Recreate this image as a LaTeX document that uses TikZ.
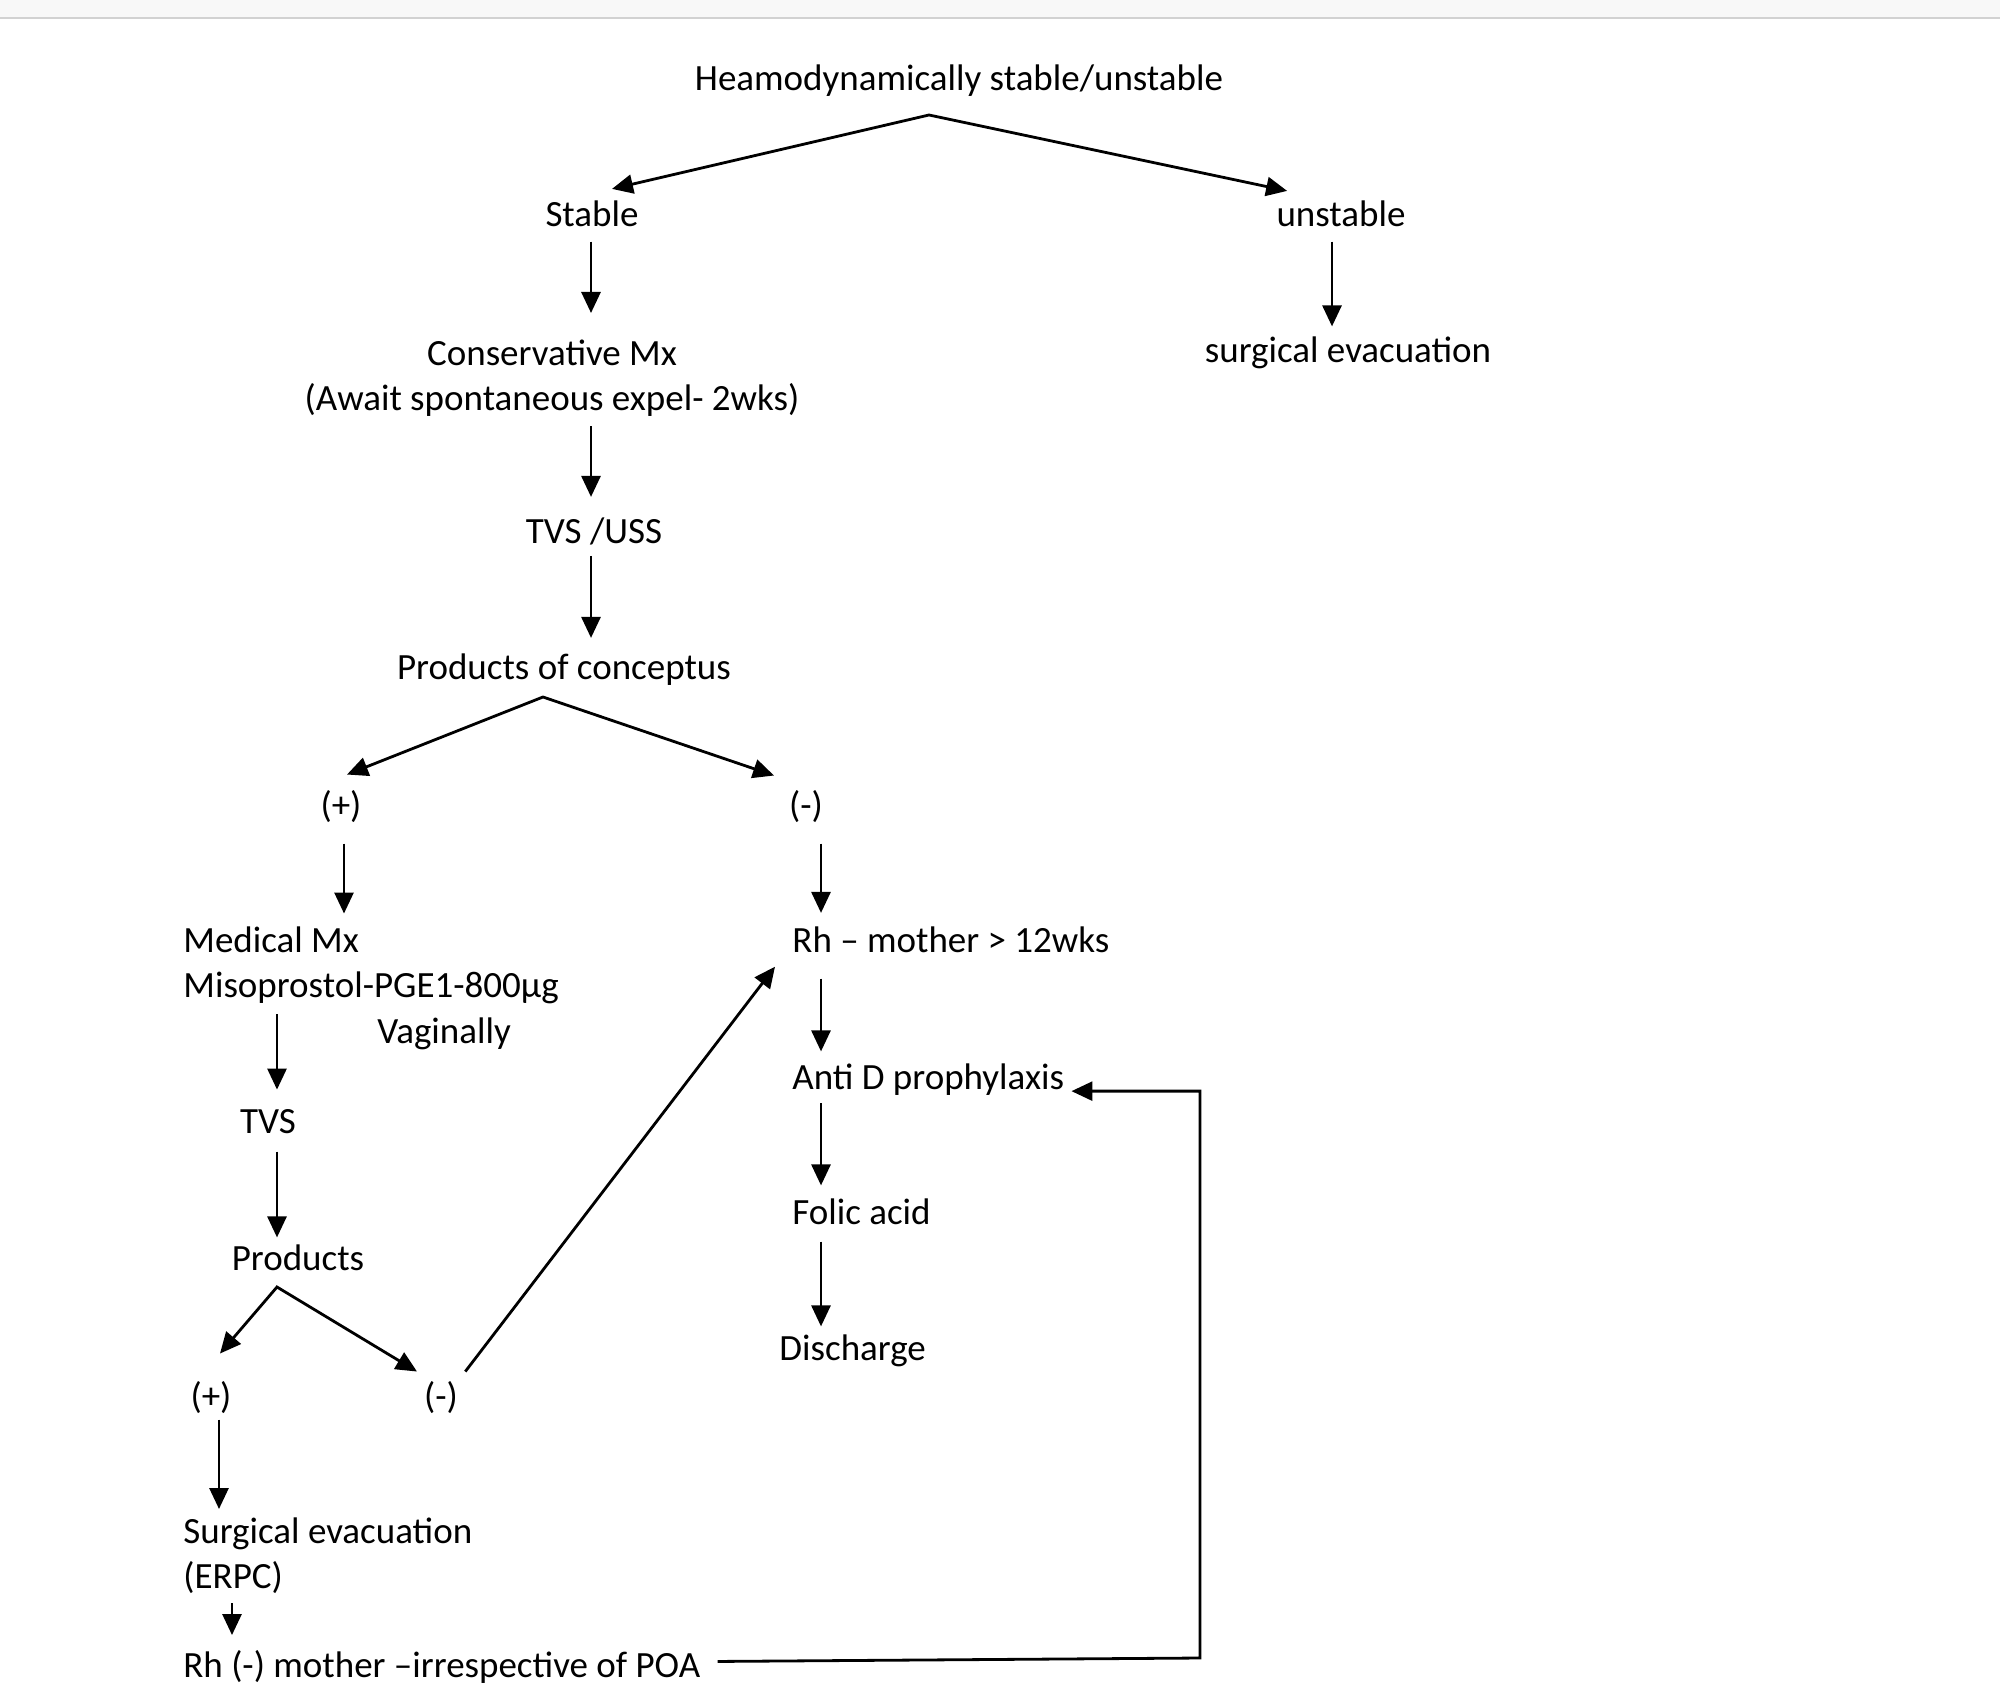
\documentclass[tikz,border=0pt]{standalone}
\usepackage{fontspec}
\setmainfont{Carlito}
\usetikzlibrary{arrows.meta,calc}
\definecolor{bandgray}{HTML}{F8F8F8}
\definecolor{rulegray}{HTML}{D2D2D2}

\begin{document}
\begin{tikzpicture}[x=0.5pt, y=-0.5pt, line width=1.4pt,
        >={Triangle[length=10.5pt,width=9.5pt]},
        txt/.style={inner sep=0pt, font=\fontsize{18.5pt}{22.5pt}\selectfont}]
        \useasboundingbox (0,0) rectangle (2000,1701);
        % Window edge at the top
        \fill[bandgray] (0,0) rectangle (2000,17);
        \draw[rulegray, line width=1.2pt] (0,18) -- (2000,18);
        % Upper part
        \node[txt, anchor=base] (head) at (959,91) {Heamodynamically stable/unstable};
        \node[txt, anchor=base] (stable) at (592,227) {Stable};
        \node[txt, anchor=base] (unst) at (1341,227) {unstable};
        \node[txt, anchor=north, align=center] (cons) at (552,339) {Conservative Mx\\(Await spontaneous expel- 2wks)};
        \node[txt, anchor=base] (surg) at (1348,363) {surgical evacuation};
        \node[txt, anchor=base] (tvs) at (594,543) {TVS /USS};
        \node[txt, anchor=base] (poc) at (564,679) {Products of conceptus};
        \node[txt, anchor=base] (pos) at (341,817) {(+)};
        \node[txt, anchor=base] (neg) at (806,817) {(-)};
        % Left branch
        \node[txt, anchor=north west, align=left] (med) at (182,925.5) {Medical Mx\\Misoprostol-PGE1-800µg};
        \node[txt, anchor=base west] (vag) at (376,1043) {Vaginally};
        \node[txt, anchor=base] (tvsb) at (268,1133) {TVS};
        \node[txt, anchor=base] (prod) at (298,1270) {Products};
        \node[txt, anchor=base] (posb) at (211,1408) {(+)};
        \node[txt, anchor=base] (negb) at (441,1408) {(-)};
        \node[txt, anchor=north west, align=left] (evac) at (182,1516.5) {Surgical evacuation\\(ERPC)};
        \node[txt, anchor=base west] (rhneg) at (182,1677) {Rh (-) mother –irrespective of POA};
        % Right branch
        \node[txt, anchor=base west] (rhm) at (791,952) {Rh – mother > 12wks};
        \node[txt, anchor=base west] (antid) at (791,1089) {Anti D prophylaxis};
        \node[txt, anchor=base west] (folic) at (791,1224) {Folic acid};
        \node[txt, anchor=base west] (disch) at (778,1360) {Discharge};
        % Arrow columns and fork points
        \coordinate (colmid) at (591,0);
        \coordinate (colunst) at (1332,0);
        \coordinate (colpos) at (344,0);
        \coordinate (colright) at (821,0);
        \coordinate (colleft) at (277,0);
        \coordinate (colposb) at (219,0);
        \coordinate (colevac) at (232,0);
        \coordinate (headfork) at (929,115);
        \coordinate (pocfork) at (543,697);
        \coordinate (prodfork) at (277,1287);
        \coordinate (loop) at (1200,1658);
        % Forks
        \draw[<->] ($(stable.north)+(20,-11)$) -- (headfork) -- ($(unst.north west)+(12,-9)$);
        \draw[<->] ($(pos.north)+(6,-14)$) -- (pocfork) -- ($(neg.north)+(-32,-13)$);
        \draw[<->] ($(posb.north)+(9,-26)$) -- (prodfork) -- ($(negb.north)+(-24,-8)$);
        % Straight arrows
        \draw[->, shorten <=6.5pt, shorten >=13pt] (stable.south -| colmid) -- (cons.north -| colmid);
        \draw[->, shorten <=6.5pt, shorten >=4.75pt] (unst.south -| colunst) -- (surg.north -| colunst);
        \draw[->, shorten <=4pt, shorten >=9.5pt] (cons.south -| colmid) -- (tvs.north -| colmid);
        \draw[->, shorten <=5pt, shorten >=7pt] (tvs.south -| colmid) -- (poc.north -| colmid);
        \draw[->, shorten <=10pt, shorten >=6pt] (pos.south -| colpos) -- (med.north -| colpos);
        \draw[->, shorten <=10pt, shorten >=6pt] (neg.south -| colright) -- (rhm.north -| colright);
        \draw[->, shorten <=4.5pt, shorten >=9pt] (med.south -| colleft) -- (tvsb.north -| colleft);
        \draw[->, shorten <=8.5pt, shorten >=2.75pt] (tvsb.south -| colleft) -- (prod.north -| colleft);
        \draw[->, shorten <=2.5pt, shorten >=3.75pt] (posb.south -| colposb) -- (evac.north -| colposb);
        \draw[->, shorten <=4pt, shorten >=6.75pt] (evac.south -| colevac) -- (rhneg.north -| colevac);
        \draw[->, shorten <=12.5pt, shorten >=5.25pt] (rhm.south -| colright) -- (antid.north -| colright);
        \draw[->, shorten <=3.5pt, shorten >=5.75pt] (antid.south -| colright) -- (folic.north -| colright);
        \draw[->, shorten <=8pt, shorten >=3.25pt] (folic.south -| colright) -- (disch.north -| colright);
        % Cross link and feedback loop
        \draw[->] ($(negb.north east)+(6,-8)$) -- ($(rhm.south west)+(-16,13)$);
        \draw[->] ($(rhneg.east)+(16,-5)$) -- (loop) |- ($(antid.east)+(6,12)$);
\end{tikzpicture}
\end{document}
